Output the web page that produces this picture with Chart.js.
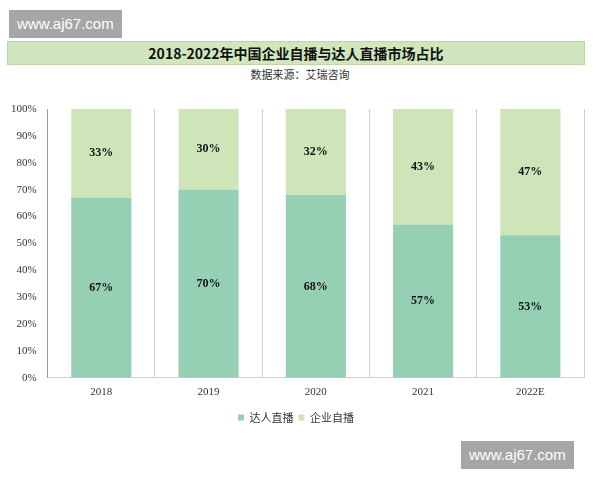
<!DOCTYPE html>
<html><head><meta charset="utf-8">
<script src="https://cdn.jsdelivr.net/npm/chart.js@4"></script>
<style>
body{margin:0;width:600px;height:480px;background:#fff;position:relative;overflow:hidden;font-family:"Liberation Serif",serif}
.wm{position:absolute;background:#a6a6a6;color:#fff;font:15px "Liberation Sans",sans-serif;padding:0 8px;line-height:28px}
#title{position:absolute;left:7px;top:41px;width:578px;height:24px;background:#d0e6be;border:1px solid #bcd6a8;box-sizing:border-box;text-align:center;font:bold 14px "Noto Sans CJK SC",sans-serif;line-height:22px;color:#111}
#sub{position:absolute;left:0;top:66px;width:600px;text-align:center;font:11px "Noto Sans CJK SC",serif;color:#333}
#wrap{position:absolute;left:0;top:95px;width:600px;height:338px}
</style></head><body>
<div class="wm" style="left:9px;top:10px">www.aj67.com</div>
<div id="title">2018-2022年中国企业自播与达人直播市场占比</div>
<div id="sub">数据来源：艾瑞咨询</div>
<div id="wrap"><canvas id="c"></canvas></div>
<div class="wm" style="left:461px;top:441px">www.aj67.com</div>
<script>
const years = ["2018", "2019", "2020", "2021", "2022E"];
const talent = [67, 70, 68, 57, 53];
const brand = [33, 30, 32, 43, 47];
const yTicks = [0, 10, 20, 30, 40, 50, 60, 70, 80, 90, 100];

const labelPlugin = {
  id: "pct",
  afterDatasetsDraw(chart) {
    const ctx = chart.ctx;
    ctx.save();
    ctx.font = "bold 12px 'Liberation Serif', serif";
    ctx.fillStyle = "#111";
    ctx.textAlign = "center";
    ctx.textBaseline = "middle";
    chart.data.datasets.forEach((ds, i) => {
      chart.getDatasetMeta(i).data.forEach((bar, j) => {
        const p = bar.getProps(["x", "y", "base"], true);
        ctx.fillText(ds.data[j] + "%", p.x, (p.y + p.base) / 2);
      });
    });
    ctx.restore();
  }
};

new Chart(document.getElementById("c"), {
  type: "bar",
  data: {
    labels: years,
    datasets: [
      { label: "达人直播", data: talent, backgroundColor: "#95cfb4", barPercentage: 0.56, categoryPercentage: 1 },
      { label: "企业自播", data: brand, backgroundColor: "#cde5b8", barPercentage: 0.56, categoryPercentage: 1 }
    ]
  },
  options: {
    responsive: true,
    maintainAspectRatio: false,
    animation: false,
    layout: { padding: { top: 14, right: 16, left: 8 } },
    plugins: {
      tooltip: { enabled: false },
      legend: {
        position: "bottom",
        labels: { boxWidth: 6, boxHeight: 6, padding: 5, color: "#333", font: { family: "'Noto Sans CJK SC', serif", size: 11 } }
      }
    },
    scales: {
      x: {
        stacked: true,
        grid: { color: "#d0d0d0", drawTicks: false },
        border: { color: "#d0d0d0" },
        ticks: { color: "#333", padding: 8, font: { family: "'Liberation Serif', serif", size: 11 } }
      },
      y: {
        stacked: true,
        min: 0, max: 100,
        afterBuildTicks: axis => { axis.ticks = yTicks.map(v => ({ value: v })); },
        grid: { display: false, drawTicks: true },
        border: { color: "#999" },
        ticks: { color: "#333", callback: v => v + "%", font: { family: "'Liberation Serif', serif", size: 11 } }
      }
    }
  },
  plugins: [labelPlugin]
});
</script>
</body></html>
